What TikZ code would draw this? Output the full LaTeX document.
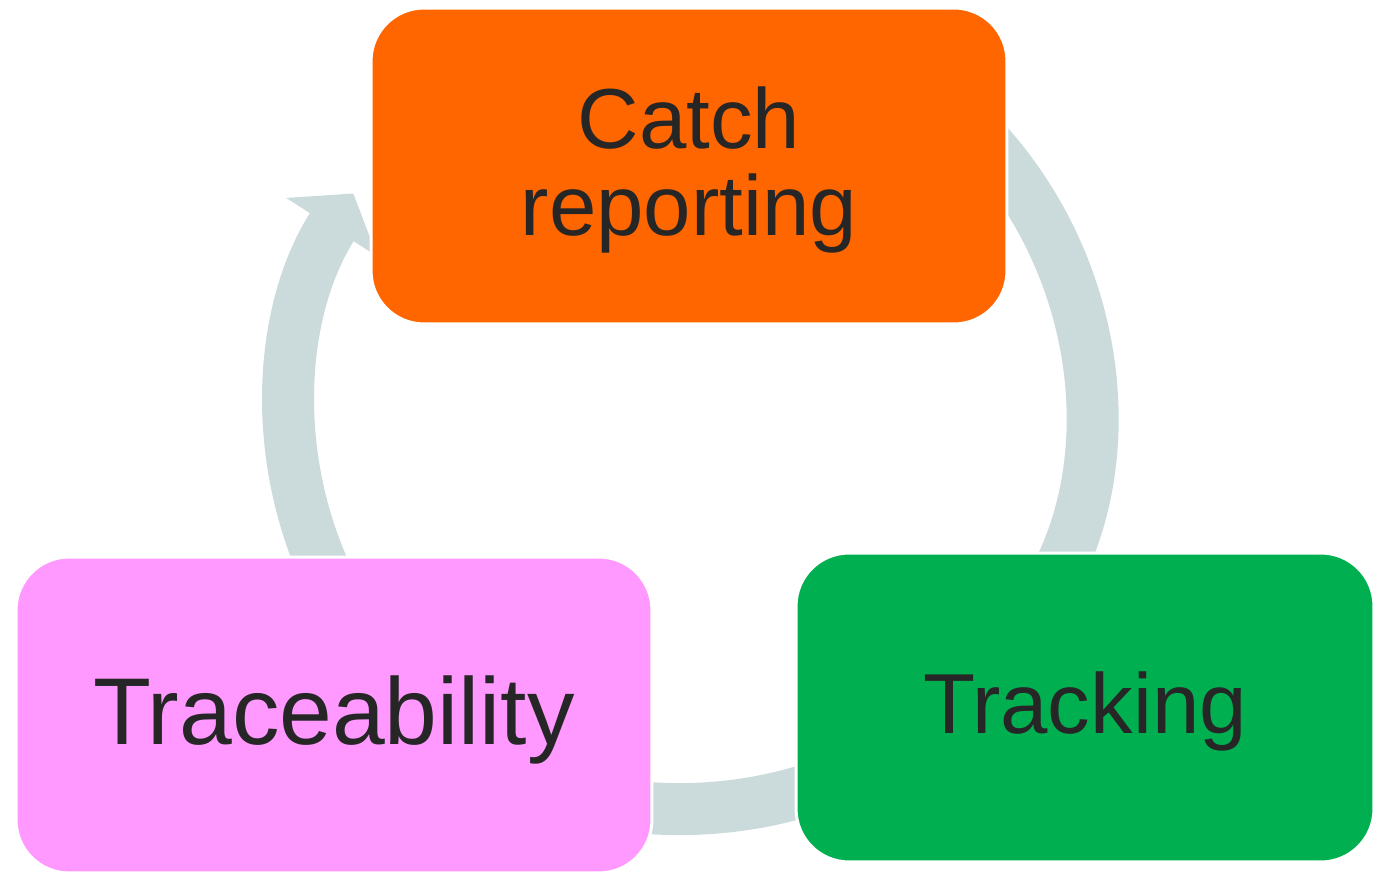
\documentclass[tikz,border=0pt]{standalone}
\usepackage{fontspec}
\setmainfont{Liberation Sans}
\usepackage{tikz}
\usetikzlibrary{arrows.meta}
\definecolor{catchorange}{RGB}{255,102,0}
\definecolor{trackgreen}{RGB}{0,176,80}
\definecolor{tracepink}{RGB}{255,153,255}
\definecolor{cyclegray}{RGB}{203,218,219}
\definecolor{textgray}{RGB}{38,38,38}

\begin{document}
\begin{tikzpicture}[x=0.02cm,y=0.02cm]
    \tikzstyle{stepnode}=[rectangle,rounded corners=1.06cm,draw=white,%
    line width=1.7pt,text=textgray,align=center,text depth=0.2cm,%
    font=\fontsize{48.5}{49.5}\selectfont] %
    \tikzstyle{cyclearc}=[draw=cyclegray,line width=1.04cm,%
    -{Triangle[length=0.8cm,width=2.12cm]}] %

    \useasboundingbox (0,0) rectangle (1375,872);
    \coordinate (CYC) at (689,463);

    %% arcs of the cycle, under the boxes
    \draw[cyclearc] ([shift={(50:7.98cm)}]CYC) arc[start angle=50,end angle=-35,radius=7.98cm];
    \draw[cyclearc] ([shift={(-72:7.98cm)}]CYC) arc[start angle=-72,end angle=-118,radius=7.98cm];
    \draw[cyclearc] ([shift={(207:7.98cm)}]CYC) arc[start angle=207,end angle=147.3,radius=7.98cm];

    %% boxes
    \node[stepnode,fill=catchorange,minimum width=12.72cm,minimum height=6.32cm] (CATCH) at (689,706) {Catch\\reporting};
    \node[stepnode,fill=trackgreen,minimum width=11.56cm,minimum height=6.18cm] (TRACK) at (1085,164.5) {Tracking};
    \node[stepnode,fill=tracepink,minimum width=12.72cm,minimum height=6.32cm,%
          font=\fontsize{54}{56}\selectfont] (TRACE) at (334,157) {Traceability};
\end{tikzpicture}
\end{document}
